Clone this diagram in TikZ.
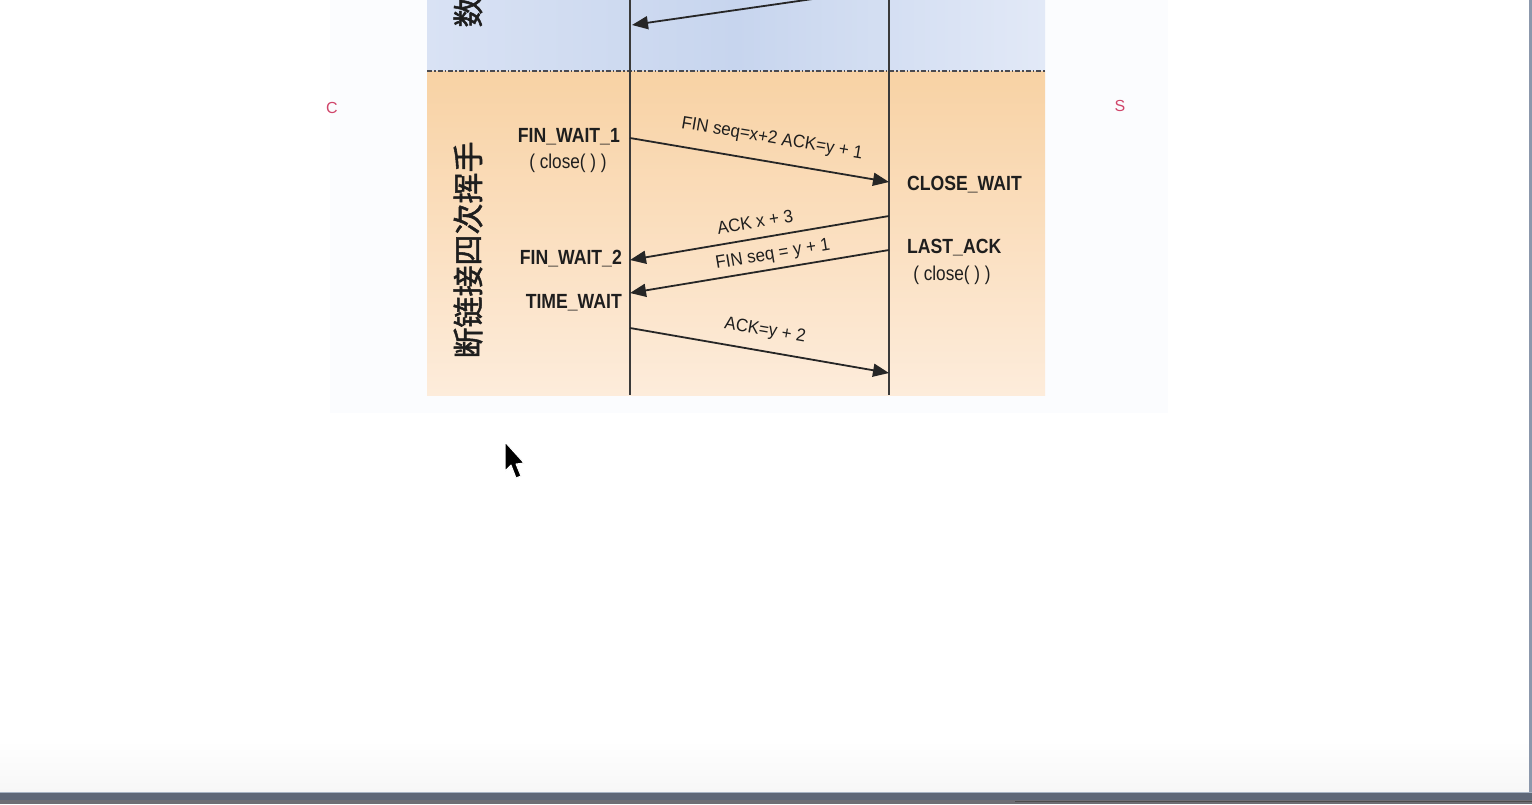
\documentclass[tikz,border=0pt]{standalone}
\usepackage{fontspec}
\setmainfont{Liberation Sans}
\newfontfamily\statefont[FakeStretch=0.86]{Liberation Sans}
\newfontfamily\msgfont[FakeStretch=0.94]{Liberation Sans}
\newfontfamily\cjkfont[FakeBold=1.6]{Noto Sans CJK SC}
\usetikzlibrary{arrows.meta,positioning}
\definecolor{TWBlueL}{HTML}{D9E2F4}
\definecolor{TWBlueM}{HTML}{C7D5EE}
\definecolor{TWBlueR}{HTML}{E2E9F7}
\definecolor{TWOrangeTop}{HTML}{F8D2A4}
\definecolor{TWOrangeBot}{HTML}{FDECDB}
\definecolor{TWInk}{HTML}{1E1E1E}
\definecolor{TWLine}{HTML}{262626}
\definecolor{TWLife}{HTML}{3A3A3A}
\definecolor{TWSep}{HTML}{4A4A50}
\definecolor{TWMark}{HTML}{D0456A}
\definecolor{TWPanel}{HTML}{FBFCFE}
\definecolor{TWFoot}{HTML}{F7F7F7}
\definecolor{TWBar}{HTML}{5F6878}
\definecolor{TWBarLow}{HTML}{6E6E74}
\definecolor{TWBarEdge}{HTML}{A8B4C4}
\definecolor{TWEdge}{HTML}{8C98AC}
\tikzset{
  lifeline/.style={draw=TWLife,line width=1.4pt},
  msg/.style={-{Triangle[length=16pt,width=13pt]},draw=TWLine,line width=1.8pt},
  msglabel/.style={text=TWInk,font=\msgfont\fontsize{18}{18}\selectfont,inner sep=0pt},
  statelabel/.style={text=TWInk,font=\statefont\bfseries\fontsize{20.5}{20.5}\selectfont,inner sep=0pt},
  calllabel/.style={text=TWInk,font=\statefont\fontsize{20}{20}\selectfont,inner sep=0pt},
  phaselabel/.style={text=TWInk,font=\cjkfont\fontsize{31}{31}\selectfont,rotate=90,inner sep=0pt},
  endmark/.style={text=TWMark,font=\fontsize{16}{16}\selectfont,inner sep=0pt},
  separator/.style={draw=TWSep,line width=1.6pt,dash pattern=on 5pt off 2pt on 1.5pt off 2pt},
}
\begin{document}
\begin{tikzpicture}[x=1pt,y=-1pt]
  \useasboundingbox (0,0) rectangle (1532,804);
  \clip (0,0) rectangle (1532,804);
  % screen background
  \fill[white] (0,0) rectangle (1532,804);
  \shade[top color=white,bottom color=TWFoot] (0,740) rectangle (1532,792);
  \fill[TWPanel] (330,0) rectangle (1168,413);
  \fill[TWEdge] (1529,0) rectangle (1532,792);
  \fill[TWBar] (0,792) rectangle (1532,800);
  \fill[TWBarLow] (0,800) rectangle (1532,804);
  \draw[TWBarEdge,line width=1pt] (0,792.5) -- (1532,792.5);
  \draw[black!70,line width=1pt] (1015,801) -- (1532,801);

  % phase bands
  \shade[left color=TWBlueL,right color=TWBlueR,middle color=TWBlueM] (427,0) rectangle (1045,71);
  \shade[top color=TWOrangeTop,bottom color=TWOrangeBot] (427,71) rectangle (1045,395);
  \draw[separator] (427,71) -- (1045,71);

  % lifelines
  \coordinate (ctop) at (630,0);
  \coordinate (cbot) at (630,395);
  \coordinate (stop) at (889,0);
  \coordinate (sbot) at (889,395);
  \draw[lifeline] (ctop) -- (cbot);
  \draw[lifeline] (stop) -- (sbot);

  \node[endmark] (cmark) at (332,108) {C};
  \node[endmark] (smark) at (1120,106) {S};

  \node[phaselabel] (datalabel) at (468,12) {数};
  \node[phaselabel] (closelabel) at (468,250) {断链接四次挥手};

  % data phase tail
  \coordinate (s0) at (889,-12);
  \coordinate (c0) at (632,25);
  \draw[msg] (s0) -- (c0);

  % four-way close
  \node[statelabel,anchor=east] (finwait1) at (620,137) {FIN\_WAIT\_1};
  \node[calllabel] (cclose) at (568,163) {( close( ) )};
  \node[statelabel,anchor=west] (closewait) at (907,185) {CLOSE\_WAIT};
  \node[statelabel,anchor=east] (finwait2) at (622,259) {FIN\_WAIT\_2};
  \node[statelabel,anchor=east] (timewait) at (622,303) {TIME\_WAIT};
  \node[statelabel,anchor=west] (lastack) at (907,248) {LAST\_ACK};
  \node[calllabel] (sclose) at (952,275) {( close( ) )};

  \coordinate (c1) at (630,138);
  \coordinate (s1) at (889,182);
  \coordinate (s2) at (889,216);
  \coordinate (c2) at (630,260);
  \coordinate (s3) at (889,250);
  \coordinate (c3) at (630,293);
  \coordinate (c4) at (630,328);
  \coordinate (s4) at (889,373);
  \draw[msg] (c1) -- (s1);
  \draw[msg] (s2) -- (c2);
  \draw[msg] (s3) -- (c3);
  \draw[msg] (c4) -- (s4);

  \node[msglabel,rotate=-9.6] (finmsg) at (772,139) {FIN seq=x+2 ACK=y + 1};
  \node[msglabel,rotate=9.6] (ackmsg) at (755,222) {ACK x + 3};
  \node[msglabel,rotate=9.5] (finmsg2) at (773,255) {FIN seq = y + 1};
  \node[msglabel,rotate=-9.8] (lastmsg) at (765,331) {ACK=y + 2};

  % pointer
  \filldraw[fill=black,draw=white,line width=1pt,line join=round]
    (505,442) -- (505,471) -- (511,465) -- (516,478) -- (521,476) -- (516,464) -- (524,463) -- cycle;
\end{tikzpicture}
\end{document}
